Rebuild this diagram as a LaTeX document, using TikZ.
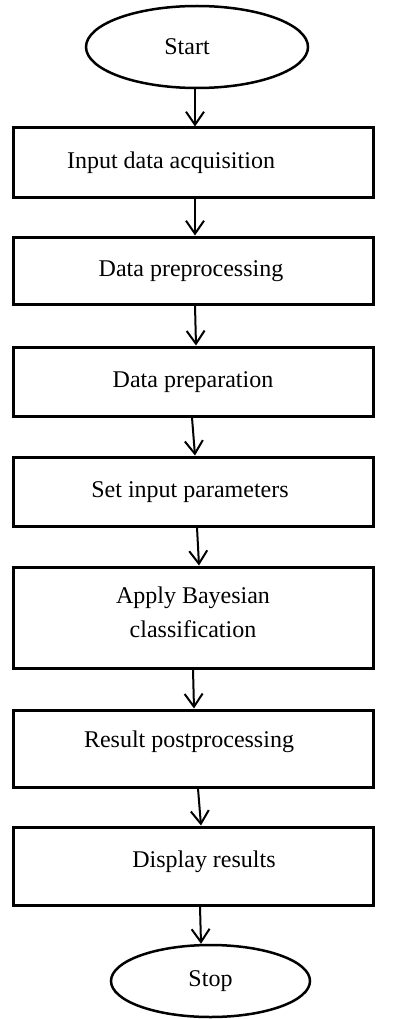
\documentclass[tikz,border=0pt]{standalone}
\usepackage{fontspec}
\setmainfont{Liberation Serif}
\usetikzlibrary{shapes.geometric,arrows.meta}
\tikzset{
  lbl/.style={font=\fontsize{24}{34}\selectfont},
  box/.style={lbl, draw, line width=3pt, minimum width=360pt, inner sep=0pt, align=center},
  oneline/.style={text height=17pt, text depth=5pt},
  term/.style={lbl, draw, ellipse, line width=2.5pt, inner sep=0pt},
  arr/.style={line width=2pt, -{Straight Barb[length=13pt,width=18pt,line width=2pt]}}
}
\begin{document}
\begin{tikzpicture}[x=1pt,y=-1pt]
\useasboundingbox (0,0) rectangle (392,1019);
\node[term, minimum width=222pt, minimum height=82pt] (start) at (197,47) {Start\hspace*{20pt}};
\node[box, oneline, minimum height=69pt] (b1) at (193,162.5) {Input data acquisition\hspace*{44pt}};
\node[box, oneline, minimum height=67pt] (b2) at (193,270.5) {Data preprocessing\hspace*{4pt}};
\node[box, oneline, minimum height=69pt] (b3) at (193,381.5) {Data preparation};
\node[box, oneline, minimum height=69pt] (b4) at (193,491.5) {Set input parameters\hspace*{6pt}};
\node[box, minimum height=101pt, text depth=11pt] (b5) at (193,617.5) {Apply Bayesian\\classification};
\node[box, text height=17pt, text depth=20pt, minimum height=77pt] (b6) at (193,748.5) {Result postprocessing\hspace*{8pt}};
\node[box, text height=17pt, text depth=15pt, minimum height=78pt] (b7) at (193,866) {\hspace*{22pt}Display results};
\node[term, minimum width=199pt, minimum height=72pt] (stop) at (210.5,981) {Stop};
\draw[arr] ([xshift=-2pt]start.south) -- ([xshift=2pt]b1.north);
\draw[arr] ([xshift=2pt]b1.south) -- ([xshift=2pt]b2.north);
\draw[arr] ([xshift=2pt]b2.south) -- ([xshift=3pt]b3.north);
\draw[arr] ([xshift=-1pt]b3.south) -- ([xshift=2pt]b4.north);
\draw[arr] ([xshift=4pt]b4.south) -- ([xshift=6pt]b5.north);
\draw[arr] ([xshift=0pt]b5.south) -- ([xshift=1pt]b6.north);
\draw[arr] ([xshift=5pt]b6.south) -- ([xshift=8pt]b7.north);
\draw[arr] ([xshift=7pt]b7.south) -- ([xshift=-9.5pt]stop.north);
\end{tikzpicture}
\end{document}
